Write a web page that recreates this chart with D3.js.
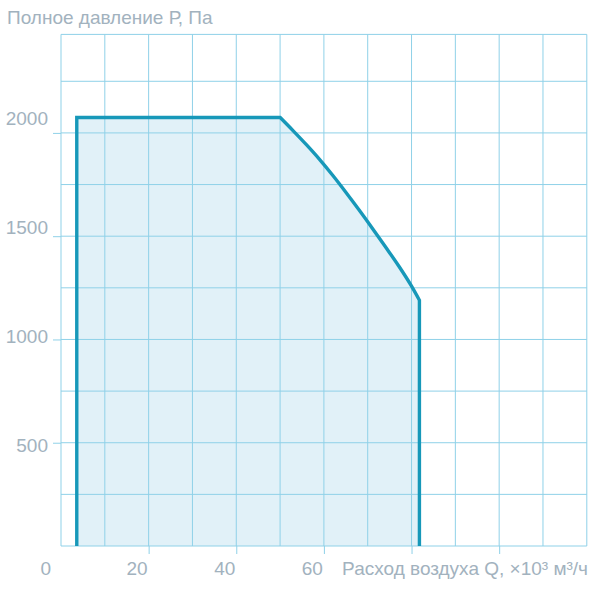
<!DOCTYPE html>
<html>
<head>
<meta charset="utf-8">
<script src="https://cdn.jsdelivr.net/npm/d3@7"></script>
<style>
  html, body { margin: 0; padding: 0; background: #fff; }
  text { font-family: "Liberation Sans", Arial, sans-serif; fill: #a2b2be; }
</style>
</head>
<body>
<div id="chart"></div>
<script>
// Working zone of the fan: flow Q (x10^3 m3/h) vs total pressure P (Pa)
// left edge + flat top
const edgeQ = [3.6, 3.6, 50];
const edgeP = [0, 2075, 2075];
// falling curve
const curveQ = [50, 53, 56, 59, 62, 65, 68, 71, 74, 77, 80, 81.8];
const curveP = [2075, 2010, 1943, 1872, 1795, 1713, 1628, 1540, 1450, 1358, 1258, 1190];
// right edge
const rightQ = [81.8, 81.8];
const rightP = [1190, 0];

const xTickValues = [20, 40, 60, 80, 100];
const xTickLabels = ['0', '20', '40', '60'];
const yTickValues = [500, 1000, 1500, 2000];
const yTickLabels = ['500', '1000', '1500', '2000'];

const yTitle = 'Полное давление Р, Па';
const xTitle = 'Расход воздуха Q, ×10³ м³/ч';

const width = 595, height = 589;
const plot = { left: 61, right: 586.8, top: 34.4, bottom: 546 };

const svg = d3.select('#chart')
    .append('svg')
    .attr('width', width)
    .attr('height', height);

// Scales
const x = d3.scaleLinear().domain([0, 120]).range([plot.left, plot.right]);
const y = d3.scaleLinear().domain([0, 2477]).range([plot.bottom, plot.top]);
// labels on the y axis drift a little from their ticks in the original
const yLabel = d3.scaleLinear().domain([0, 2000]).range([554, 118]);

const gridColor = '#8fd1e8';

// Outline path built from three pieces
const straight = d3.line().x(d => x(d[0])).y(d => y(d[1]));
const smooth = d3.line().x(d => x(d[0])).y(d => y(d[1])).curve(d3.curveMonotoneX);
const zip = (a, b) => a.map((v, i) => [v, b[i]]);

const outline = straight(zip(edgeQ, edgeP))
    + smooth(zip(curveQ, curveP)).replace(/^M/, 'L')
    + straight(zip(rightQ, rightP)).replace(/^M/, 'L');

// Fill under the grid
svg.append('path')
    .attr('d', outline)
    .attr('fill', '#e1f1f8')
    .attr('stroke', 'none');

// Grid lines
svg.append('g')
    .attr('class', 'grid-x')
    .selectAll('line')
    .data(d3.range(0, 121, 10))
    .join('line')
    .attr('x1', d => x(d)).attr('x2', d => x(d))
    .attr('y1', plot.top).attr('y2', plot.bottom)
    .attr('stroke', gridColor)
    .attr('stroke-width', 1);

svg.append('g')
    .attr('class', 'grid-y')
    .selectAll('line')
    .data(d3.range(0, 2477, 250).concat([2477]))
    .join('line')
    .attr('x1', plot.left).attr('x2', plot.right)
    .attr('y1', d => y(d)).attr('y2', d => y(d))
    .attr('stroke', gridColor)
    .attr('stroke-width', 1);

// Outline on top
svg.append('path')
    .attr('d', outline)
    .attr('fill', 'none')
    .attr('stroke', '#1798b9')
    .attr('stroke-width', 3.4)
    .attr('stroke-linejoin', 'miter');

// Axis ticks
svg.append('g')
    .attr('transform', `translate(0,${plot.bottom})`)
    .call(d3.axisBottom(x).tickValues(xTickValues).tickSize(8).tickFormat(''))
    .call(g => g.select('.domain').remove())
    .call(g => g.selectAll('line').attr('stroke', gridColor));

svg.append('g')
    .attr('transform', `translate(${plot.left},0)`)
    .call(d3.axisLeft(y).tickValues(yTickValues).tickSize(8).tickFormat(''))
    .call(g => g.select('.domain').remove())
    .call(g => g.selectAll('line').attr('stroke', gridColor));

// Tick labels
svg.append('g')
    .selectAll('text')
    .data(xTickLabels)
    .join('text')
    .attr('x', d => d === '0' ? x(0) - 10 : x(+d) - 1)
    .attr('y', 575)
    .attr('text-anchor', 'end')
    .style('font-size', '19px')
    .text(d => d);

svg.append('g')
    .selectAll('text')
    .data(yTickLabels)
    .join('text')
    .attr('x', 48)
    .attr('y', d => yLabel(+d))
    .attr('dy', '0.35em')
    .attr('text-anchor', 'end')
    .style('font-size', '19px')
    .text(d => d);

// Titles
svg.append('text')
    .attr('x', 7)
    .attr('y', 24)
    .style('font-size', '19px')
    .text(yTitle);

svg.append('text')
    .attr('x', 588)
    .attr('y', 575)
    .attr('text-anchor', 'end')
    .style('font-size', '19px')
    .text(xTitle);
</script>
</body>
</html>
